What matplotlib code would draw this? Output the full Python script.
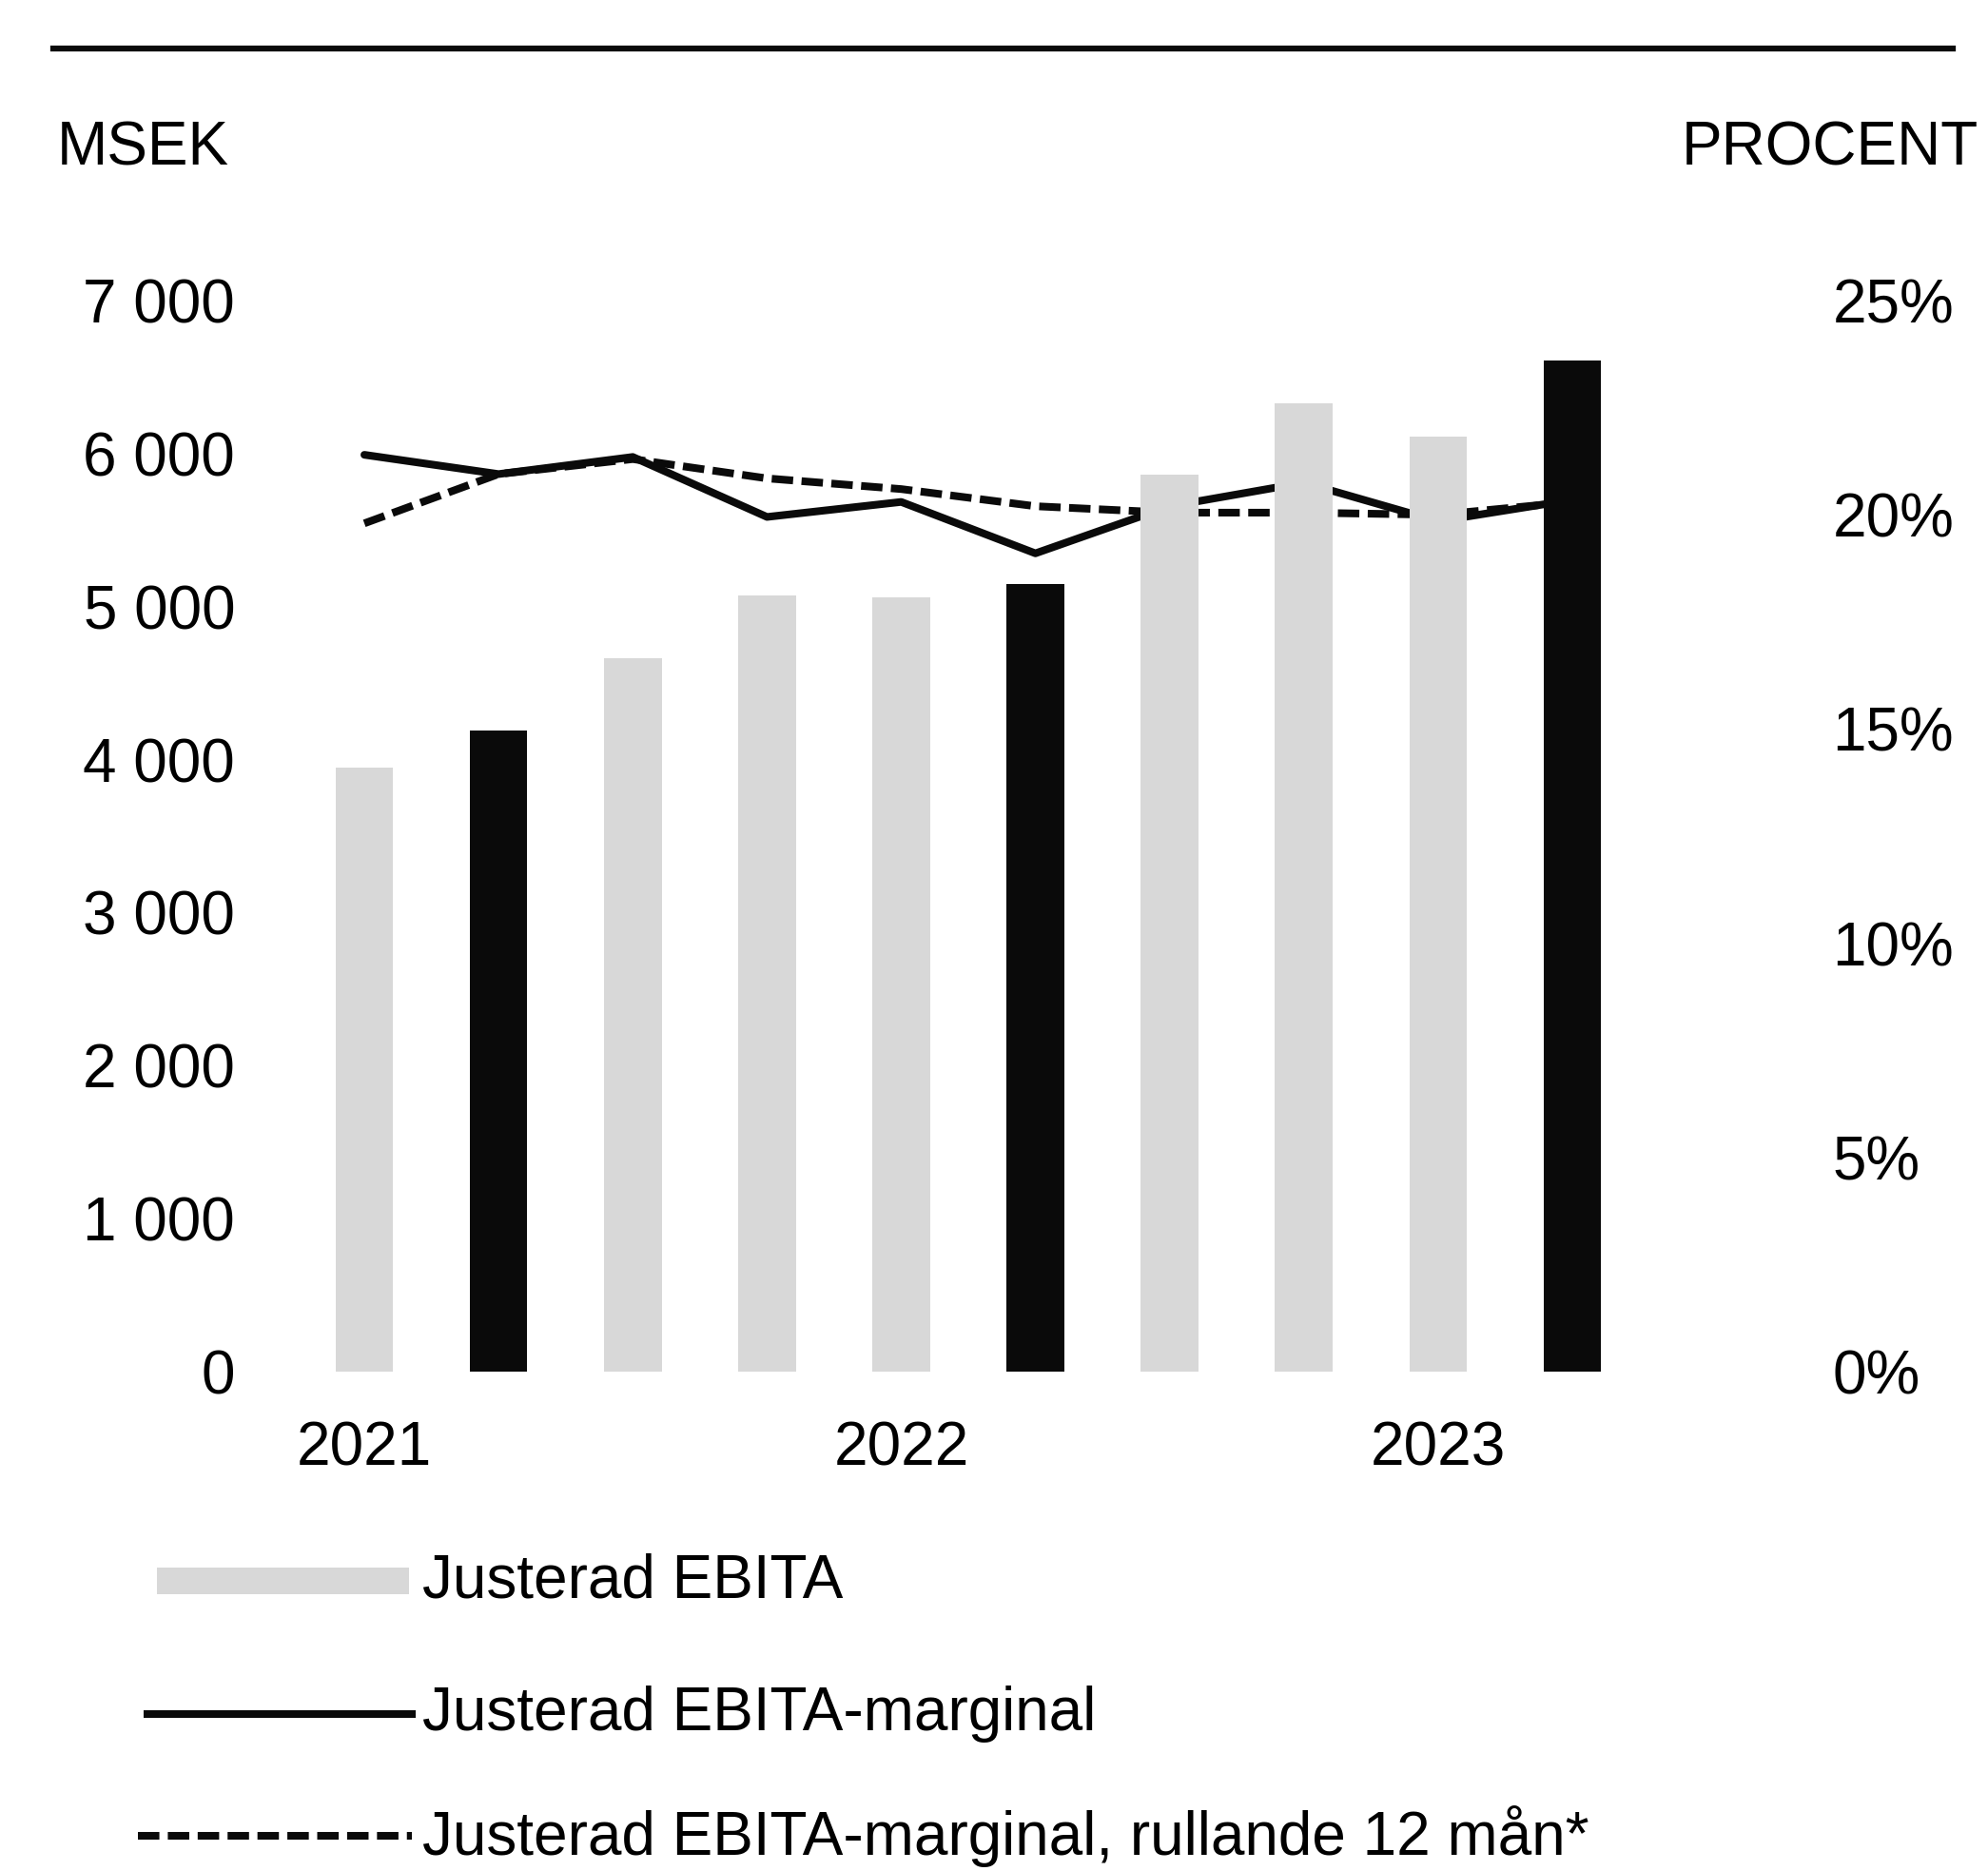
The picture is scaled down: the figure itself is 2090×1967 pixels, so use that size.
import matplotlib
matplotlib.use("Agg")
import matplotlib.pyplot as plt
from matplotlib.lines import Line2D
from matplotlib.patches import Rectangle

plt.rcParams["font.family"] = ["Liberation Sans", "DejaVu Sans"]

# Kvartal 2021 Q1 - 2023 Q2
kvartal = ["Q1 21", "Q2 21", "Q3 21", "Q4 21", "Q1 22", "Q2 22", "Q3 22", "Q4 22", "Q1 23", "Q2 23"]
ebita = [3950, 4190, 4660, 5070, 5060, 5150, 5860, 6330, 6110, 6610]
marginal = [21.4, 20.95, 21.35, 19.95, 20.3, 19.1, 20.2, 20.75, 19.85, 20.35]
rullande = [19.8, 20.95, 21.3, 20.85, 20.6, 20.2, 20.05, 20.05, 20.0, 20.3]
markerad = [1, 5, 9]  # Q2-kvartal i svart

ar_pos = [0, 4, 8]
ar_text = ["2021", "2022", "2023"]
msek_ticks = [0, 1000, 2000, 3000, 4000, 5000, 6000, 7000]
msek_labels = ["0", "1 000", "2 000", "3 000", "4 000", "5 000", "6 000", "7 000"]
pct_ticks = [0, 5, 10, 15, 20, 25]
pct_labels = ["0%", "5%", "10%", "15%", "20%", "25%"]

GRA = "#d8d8d8"
SVART = "#0a0a0a"
FS = 46
LW = 5.8
STRECK = (2.8, 1.1)

W, H = 2090, 1967
fig = plt.figure(figsize=(W / 100, H / 100), dpi=100)

# axes i pixlar
x0, x1 = 312.5, 1723.5
ytop, ybot = 316, 1442
ax = fig.add_axes([x0 / W, (H - ybot) / H, (x1 - x0) / W, (ybot - ytop) / H])

x = list(range(len(ebita)))
farger = [SVART if i in markerad else GRA for i in x]
ax.bar(x, ebita, width=0.43, color=farger, zorder=2)
ax.set_xlim(-0.5, 9.5)
ax.set_ylim(0, 7000)
ax.set_yticks(msek_ticks)
ax.set_yticklabels(msek_labels, fontsize=FS)
ax.set_xticks(ar_pos)
ax.set_xticklabels(ar_text, fontsize=FS)
ax.tick_params(axis="y", length=0, pad=47)
ax.tick_params(axis="x", length=0, pad=37)

ax2 = ax.twinx()
ax2.plot(x, marginal, color=SVART, lw=LW, zorder=3, solid_capstyle="round")
ax2.plot(x, rullande, color=SVART, lw=LW, dashes=STRECK, zorder=3)
ax2.set_ylim(0, 25)
ax2.set_yticks(pct_ticks)
ax2.set_yticklabels(pct_labels, fontsize=FS)
ax2.tick_params(axis="y", length=0, pad=146)
ax.set_zorder(ax2.get_zorder() + 1)
ax.patch.set_visible(False)

for a in (ax, ax2):
    for s in a.spines.values():
        s.set_visible(False)

# linje under rubriken
fig.add_artist(Line2D([56 / W, 2053 / W], [1 - 51 / H, 1 - 51 / H], color=SVART, lw=4.5))

fig.text(60 / W, 1 - 157 / H, "MSEK", fontsize=FS, ha="left", va="center")
fig.text(2080 / W, 1 - 157 / H, "PROCENT", fontsize=FS, ha="right", va="center")

# teckenförklaring
rader = [1662, 1802, 1930]
fig.add_artist(Rectangle((165 / W, 1 - (rader[0] + 14) / H), 265 / W, 28 / H, color=GRA, lw=0))
fig.add_artist(Line2D([155 / W, 433 / W], [1 - rader[1] / H] * 2, color=SVART, lw=LW))
fig.add_artist(Line2D([145 / W, 433 / W], [1 - rader[2] / H] * 2, color=SVART, lw=LW, dashes=STRECK))
etiketter = ["Justerad EBITA", "Justerad EBITA-marginal", "Justerad EBITA-marginal, rullande 12 mån*"]
for yy, t in zip(rader, etiketter):
    fig.text(444 / W, 1 - yy / H, t, fontsize=FS, ha="left", va="center")

fig.savefig("out.png", dpi=100)
